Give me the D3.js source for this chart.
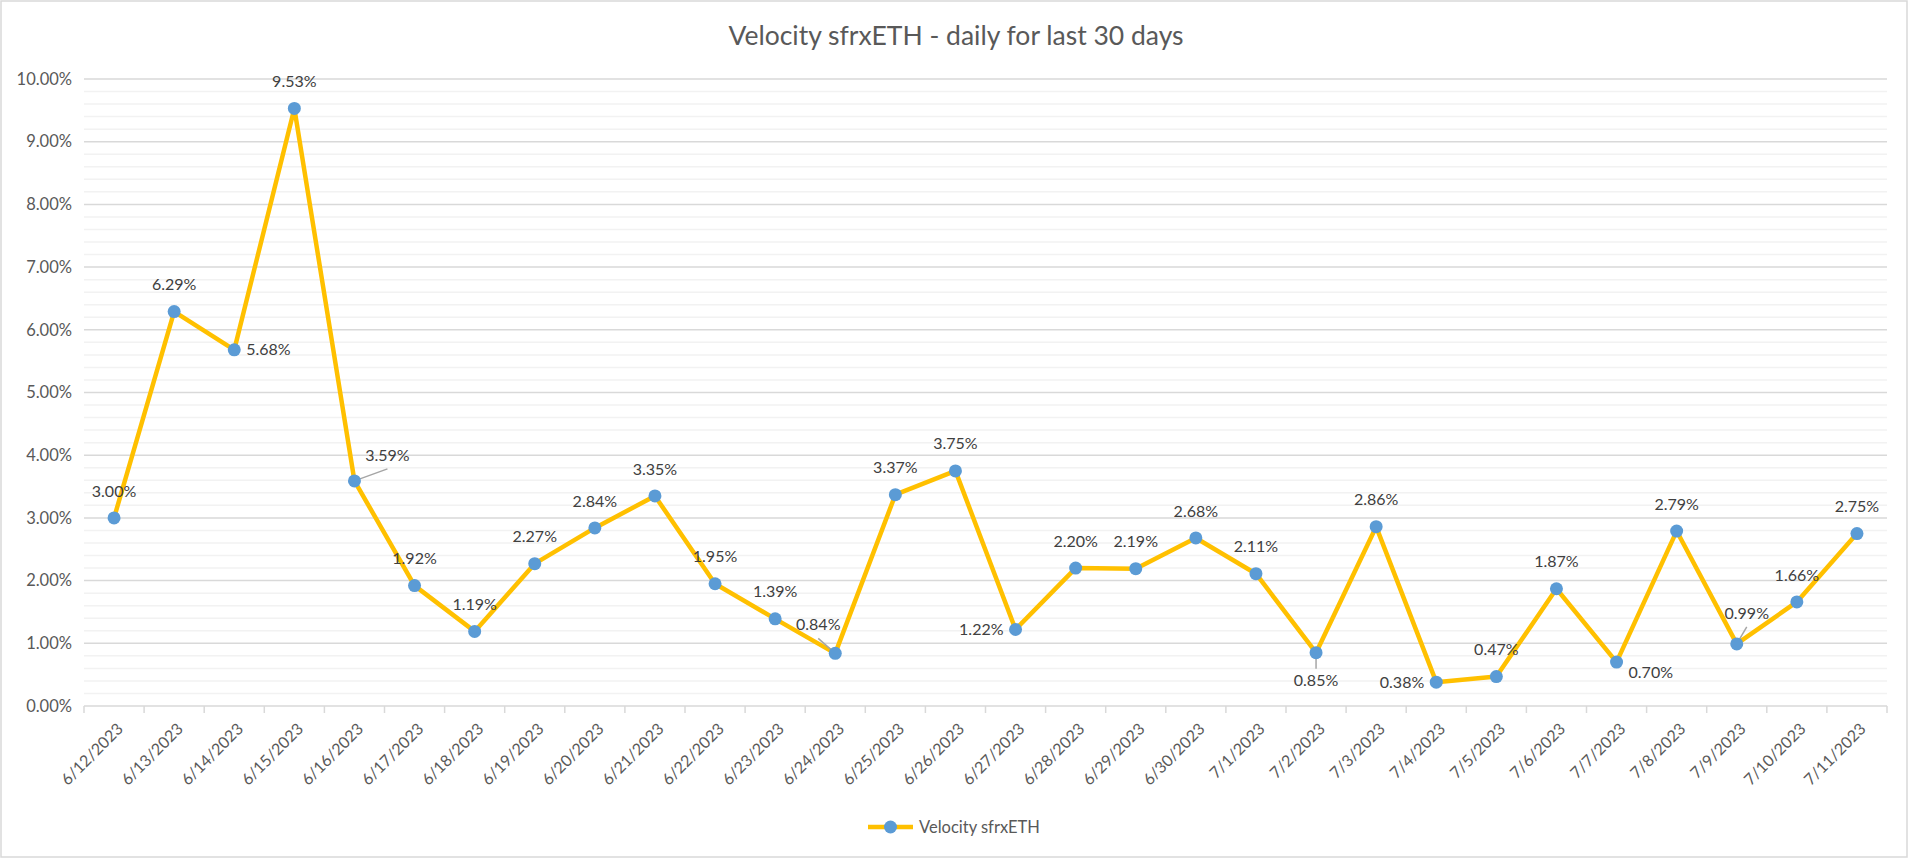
<!DOCTYPE html>
<html>
<head>
<meta charset="utf-8">
<script src="https://cdn.jsdelivr.net/npm/d3@7"></script>
<style>
  html, body { margin: 0; padding: 0; background: #fff; }
  svg { display: block; font-family: Lato, "Open Sans", sans-serif; }
</style>
</head>
<body>
<div id="chart"></div>
<script>
// Velocity sfrxETH - daily line chart

const dates = [
  '6/12/2023', '6/13/2023', '6/14/2023', '6/15/2023', '6/16/2023', '6/17/2023',
  '6/18/2023', '6/19/2023', '6/20/2023', '6/21/2023', '6/22/2023', '6/23/2023',
  '6/24/2023', '6/25/2023', '6/26/2023', '6/27/2023', '6/28/2023', '6/29/2023',
  '6/30/2023', '7/1/2023', '7/2/2023', '7/3/2023', '7/4/2023', '7/5/2023',
  '7/6/2023', '7/7/2023', '7/8/2023', '7/9/2023', '7/10/2023', '7/11/2023'
];

// percent values
const velocity = [
  3.00, 6.29, 5.68, 9.53, 3.59, 1.92, 1.19, 2.27, 2.84, 3.35,
  1.95, 1.39, 0.84, 3.37, 3.75, 1.22, 2.20, 2.19, 2.68, 2.11,
  0.85, 2.86, 0.38, 0.47, 1.87, 0.70, 2.79, 0.99, 1.66, 2.75
];

const yTicks = [0, 1, 2, 3, 4, 5, 6, 7, 8, 9, 10];

// where Excel put each data label
const labelPos = [
  'top', 'top', 'right', 'top', 'lead', 'top', 'top', 'top', 'top', 'top',
  'top', 'top', 'lead', 'top', 'top', 'left', 'top', 'top', 'top', 'top',
  'lead', 'top', 'left', 'top', 'top', 'right', 'top', 'lead', 'top', 'top'
];
// manual offsets for labels that were dragged (leader lines drawn)
const leadOffset = {
  4: [33, -26],
  12: [-17, -29],
  20: [0, 28],
  27: [10, -31]
};

const W = 1912, H = 859;
const margin = { left: 84, right: 1887, top: 79, bottom: 706 };

const svg = d3.select('#chart').append('svg')
  .attr('width', W)
  .attr('height', H);

// chart frame
svg.append('rect')
  .attr('x', 1).attr('y', 1)
  .attr('width', 1906).attr('height', 856)
  .attr('fill', '#fff')
  .attr('stroke', '#d9d9d9')
  .attr('stroke-width', 1.5);

const x = d3.scaleBand()
  .domain(dates)
  .range([margin.left, margin.right]);

const y = d3.scaleLinear()
  .domain([0, 10])
  .range([margin.bottom, margin.top]);

// minor gridlines every 0.2%
const minor = d3.range(0, 10.001, 0.2).filter(v => Math.abs(v - Math.round(v)) > 0.01);
svg.append('g').selectAll('line')
  .data(minor)
  .join('line')
  .attr('x1', margin.left).attr('x2', margin.right)
  .attr('y1', d => y(d)).attr('y2', d => y(d))
  .attr('stroke', '#f2f2f2')
  .attr('stroke-width', 1.5);

// major gridlines
svg.append('g').selectAll('line')
  .data(yTicks.slice(1))
  .join('line')
  .attr('x1', margin.left).attr('x2', margin.right)
  .attr('y1', d => y(d)).attr('y2', d => y(d))
  .attr('stroke', '#d9d9d9')
  .attr('stroke-width', 1.5);

// y axis labels
svg.append('g').selectAll('text')
  .data(yTicks)
  .join('text')
  .attr('x', 72)
  .attr('y', d => y(d))
  .attr('dy', '0.35em')
  .attr('text-anchor', 'end')
  .attr('fill', '#595959')
  .style('font-size', '16.5px')
  .text(d => d3.format('.2f')(d) + '%');

// x axis line + ticks
const xAxis = svg.append('g').attr('transform', `translate(0,${margin.bottom})`);
xAxis.append('line')
  .attr('x1', margin.left).attr('x2', margin.right)
  .attr('stroke', '#d9d9d9').attr('stroke-width', 1.5);
xAxis.selectAll('line.tick')
  .data(d3.range(dates.length + 1))
  .join('line')
  .attr('class', 'tick')
  .attr('x1', i => margin.left + i * x.bandwidth())
  .attr('x2', i => margin.left + i * x.bandwidth())
  .attr('y1', 0).attr('y2', 7)
  .attr('stroke', '#d9d9d9').attr('stroke-width', 1.5);

xAxis.selectAll('text')
  .data(dates)
  .join('text')
  .attr('transform', d => `translate(${x(d) + x.bandwidth() / 2 + 6},${20}) rotate(-45)`)
  .attr('text-anchor', 'end')
  .attr('dy', '0.35em')
  .attr('fill', '#595959')
  .style('font-size', '16px')
  .text(d => d);

// series
const pts = velocity.map((v, i) => ({ v, i, cx: x(dates[i]) + x.bandwidth() / 2, cy: y(v) }));

svg.append('path')
  .datum(pts)
  .attr('fill', 'none')
  .attr('stroke', '#FFC000')
  .attr('stroke-width', 4.5)
  .attr('stroke-linejoin', 'round')
  .attr('d', d3.line().x(d => d.cx).y(d => d.cy));

// leader lines
svg.append('g').selectAll('line')
  .data(pts.filter(d => labelPos[d.i] === 'lead'))
  .join('line')
  .attr('x1', d => d.cx).attr('y1', d => d.cy)
  .attr('x2', d => d.cx + leadOffset[d.i][0])
  .attr('y2', d => d.cy + leadOffset[d.i][1] + (leadOffset[d.i][1] < 0 ? 14 : -12))
  .attr('stroke', '#a5a5a5')
  .attr('stroke-width', 1.5);

svg.append('g').selectAll('circle')
  .data(pts)
  .join('circle')
  .attr('cx', d => d.cx).attr('cy', d => d.cy)
  .attr('r', 6.5)
  .attr('fill', '#5B9BD5');

// data labels
svg.append('g').selectAll('text')
  .data(pts)
  .join('text')
  .attr('x', d => {
    const p = labelPos[d.i];
    if (p === 'right') return d.cx + 12;
    if (p === 'left') return d.cx - 12;
    if (p === 'lead') return d.cx + leadOffset[d.i][0];
    return d.cx;
  })
  .attr('y', d => {
    const p = labelPos[d.i];
    if (p === 'top') return d.cy - 27;
    if (p === 'lead') return d.cy + leadOffset[d.i][1];
    if (p === 'right' && d.i === 25) return d.cy + 10;
    return d.cy;
  })
  .attr('dy', '0.35em')
  .attr('text-anchor', d => labelPos[d.i] === 'right' ? 'start' : labelPos[d.i] === 'left' ? 'end' : 'middle')
  .attr('fill', '#404040')
  .style('font-size', '16px')
  .text(d => d.v.toFixed(2) + '%');

// title
svg.append('text')
  .attr('x', W / 2)
  .attr('y', 45)
  .attr('text-anchor', 'middle')
  .attr('fill', '#595959')
  .style('font-size', '26.5px')
  .text('Velocity sfrxETH - daily for last 30 days');

// legend
const lg = svg.append('g').attr('transform', 'translate(868,827)');
lg.append('line')
  .attr('x1', 0).attr('x2', 45)
  .attr('stroke', '#FFC000').attr('stroke-width', 4.5);
lg.append('circle')
  .attr('cx', 22.5).attr('r', 6.5)
  .attr('fill', '#5B9BD5');
lg.append('text')
  .attr('x', 51)
  .attr('dy', '0.35em')
  .attr('fill', '#595959')
  .style('font-size', '16.5px')
  .text('Velocity sfrxETH');
</script>
</body>
</html>
